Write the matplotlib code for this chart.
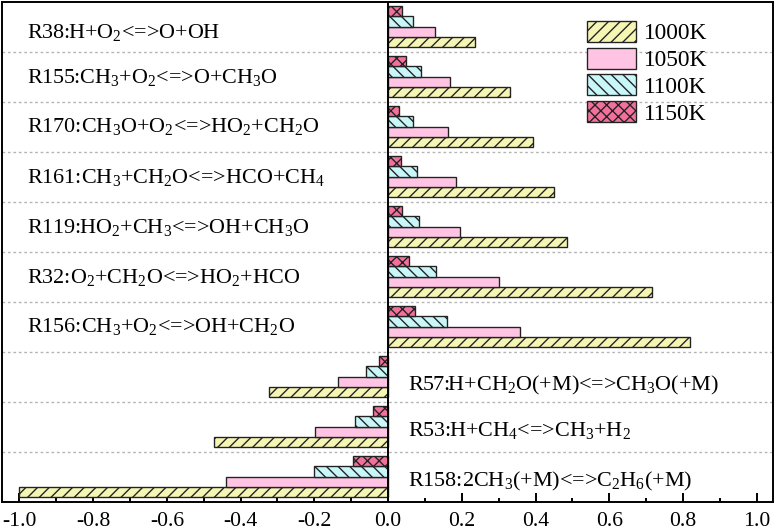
import numpy as np
import matplotlib
matplotlib.use('Agg')
import matplotlib.pyplot as plt
from matplotlib.ticker import MultipleLocator

plt.rcParams['font.family'] = 'Liberation Serif'
plt.rcParams['mathtext.fontset'] = 'custom'
plt.rcParams['mathtext.rm'] = 'Liberation Serif'
plt.rcParams['mathtext.it'] = 'Liberation Serif:italic'
plt.rcParams['hatch.linewidth'] = 0.7

# reactions, top to bottom
reactions = [
    r'R38:H+O$_2$<=>O+OH',
    r'R155:CH$_3$+O$_2$<=>O+CH$_3$O',
    r'R170:CH$_3$O+O$_2$<=>HO$_2$+CH$_2$O',
    r'R161:CH$_3$+CH$_2$O<=>HCO+CH$_4$',
    r'R119:HO$_2$+CH$_3$<=>OH+CH$_3$O',
    r'R32:O$_2$+CH$_2$O<=>HO$_2$+HCO',
    r'R156:CH$_3$+O$_2$<=>OH+CH$_2$O',
    r'R57:H+CH$_2$O(+M)<=>CH$_3$O(+M)',
    r'R53:H+CH$_4$<=>CH$_3$+H$_2$',
    r'R158:2CH$_3$(+M)<=>C$_2$H$_6$(+M)',
]
temps = ['1000K', '1050K', '1100K', '1150K']

s1000 = [0.235, 0.330, 0.392, 0.450, 0.485, 0.715, 0.820, -0.324, -0.471, -1.000]
s1050 = [0.128, 0.169, 0.163, 0.184, 0.194, 0.302, 0.359, -0.137, -0.199, -0.440]
s1100 = [0.069, 0.090, 0.069, 0.079, 0.083, 0.131, 0.161, -0.059, -0.089, -0.202]
s1150 = [0.037, 0.049, 0.031, 0.034, 0.038, 0.058, 0.072, -0.025, -0.042, -0.096]

colors = ['#f5f5b4', '#ffc4e4', '#c9f6f8', '#f2709c']
hatches = ['////', '', '\\\\\\\\', 'xxxx']
# baseline of each label inside its row (fraction of the row)
label_dy = [0.72, 0.61, 0.60, 0.62, 0.63, 0.63, 0.60, 0.77, 0.68, 0.68]

fig = plt.figure(figsize=(776 / 140, 532 / 140), dpi=140)
ax = fig.add_axes([2 / 776, 30 / 532, 771 / 776, 500 / 532])

n = len(reactions)
rows = np.arange(n)
h = 0.205
series = [s1000, s1050, s1100, s1150]
for k, (vals, c, ht, t) in enumerate(zip(series, colors, hatches, temps)):
    y = rows + 0.49 + (1.5 - k) * h
    ax.barh(y, vals, height=h, color=c, edgecolor='#222222', linewidth=0.7,
            hatch=ht, label=t, zorder=3)

for yy in range(1, n):
    ax.axhline(yy, color='#b4b4b4', lw=0.7, ls=(0, (2, 2)), zorder=1)
ax.axvline(0, color='k', lw=1.0, zorder=4)

for i, (lab, v) in enumerate(zip(reactions, s1000)):
    x = -0.98 if v > 0 else 0.054
    ax.text(x, i + label_dy[i], lab, ha='left', va='baseline', fontsize=11.4)

ax.set_xlim(-1.047, 1.044)
ax.set_ylim(n, 0)
ax.set_yticks([])
ticks = np.arange(-1.0, 1.01, 0.2)
ax.set_xticks(ticks)
ax.set_xticklabels(['%.1f' % t if abs(t) > 1e-9 else '0.0' for t in ticks])
ax.xaxis.set_minor_locator(MultipleLocator(0.1))
ax.tick_params(axis='x', which='major', direction='in', length=4.6, width=1.0,
               labelsize=11.2, pad=5.2)
ax.tick_params(axis='x', which='minor', direction='in', length=2.3, width=1.0)
for sp in ax.spines.values():
    sp.set_linewidth(1.0)

ax.legend(loc='upper left', bbox_to_anchor=(0.7588, 0.962), frameon=False,
          fontsize=12, handlelength=2.1, handleheight=1.0, labelspacing=0.14,
          handletextpad=0.34, borderpad=0, borderaxespad=0)

fig.savefig('out.png', dpi=140)
